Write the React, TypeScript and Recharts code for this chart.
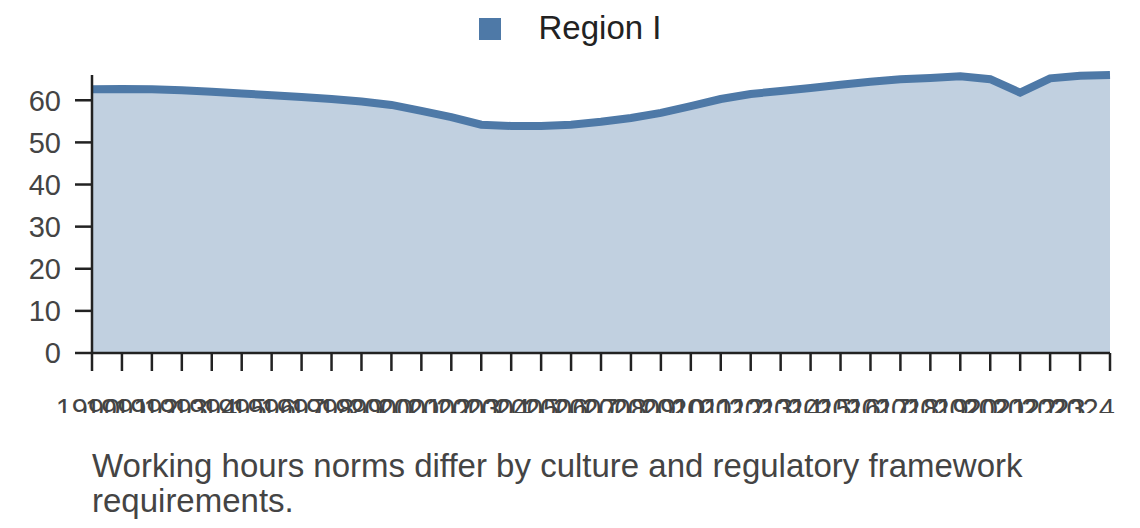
import React from 'react';
import { AreaChart, Area, XAxis, YAxis, Legend } from 'recharts';

const years = [
  1990, 1991, 1992, 1993, 1994, 1995, 1996, 1997, 1998, 1999,
  2000, 2001, 2002, 2003, 2004, 2005, 2006, 2007, 2008, 2009,
  2010, 2011, 2012, 2013, 2014, 2015, 2016, 2017, 2018, 2019,
  2020, 2021, 2022, 2023, 2024,
];

const regionI = [
  62.6, 62.7, 62.6, 62.4, 62.0, 61.6, 61.2, 60.8, 60.3, 59.7,
  58.9, 57.5, 56.0, 54.2, 53.9, 53.9, 54.2, 54.9, 55.8, 57.0,
  58.6, 60.3, 61.5, 62.2, 62.9, 63.7, 64.4, 65.0, 65.3, 65.7,
  65.0, 61.8, 65.2, 65.8, 66.0,
];

const yTicks = [0, 10, 20, 30, 40, 50, 60];

const caption = 'Working hours norms differ by culture and regulatory framework requirements.';

const data = years.map((year, i) => ({ year: String(year), value: regionI[i] }));

const FONT = '"Liberation Sans", Arial, sans-serif';
const AXIS = '#222';
const BLUE = '#4e79a7';
const LABEL = '#444';

// year labels sit a little left of their ticks, drifting further left along the axis
const YearTick = ({ x, y, payload }) => {
  const cx = x - 4 - (x - 92) * 0.023;
  return (
    <text x={cx} y={y} dy="0.71em" textAnchor="middle" fill={LABEL} fontSize={29} fontFamily={FONT}>
      {payload.value}
    </text>
  );
};

const App = () => {
  return (
    <div style={{ position: 'absolute', left: 0, top: 0, width: 1140, height: 528, fontFamily: FONT }}>
      <AreaChart width={1140} height={413} data={data} margin={{ top: 75, right: 30, bottom: 0, left: 0 }}>
        <Legend
          verticalAlign="middle"
          align="center"
          iconType="square"
          iconSize={22}
          wrapperStyle={{ top: 3, left: 5, width: 1140 }}
          formatter={(v) => (
            <span style={{ color: '#222', fontSize: 33, marginLeft: 34, position: 'relative', top: 6 }}>{v}</span>
          )}
        />
        <XAxis
          dataKey="year"
          interval={0}
          height={60}
          tickSize={18}
          tickMargin={27}
          stroke={AXIS}
          strokeWidth={2.5}
          tick={<YearTick />}
        />
        <YAxis
          width={92}
          domain={[0, 'dataMax']}
          ticks={yTicks}
          tickSize={17}
          tickMargin={14}
          stroke={AXIS}
          strokeWidth={2.5}
          tick={{ fill: LABEL, fontSize: 29 }}
        />
        <Area
          type="linear"
          dataKey="value"
          name="Region I"
          stroke={BLUE}
          strokeWidth={8}
          fill={BLUE}
          fillOpacity={0.35}
          isAnimationActive={false}
        />
      </AreaChart>
      <div
        style={{
          position: 'absolute',
          left: 92,
          top: 448,
          width: 960,
          fontSize: 33,
          lineHeight: '35px',
          color: LABEL,
        }}
      >
        {caption}
      </div>
    </div>
  );
};

export default App;
